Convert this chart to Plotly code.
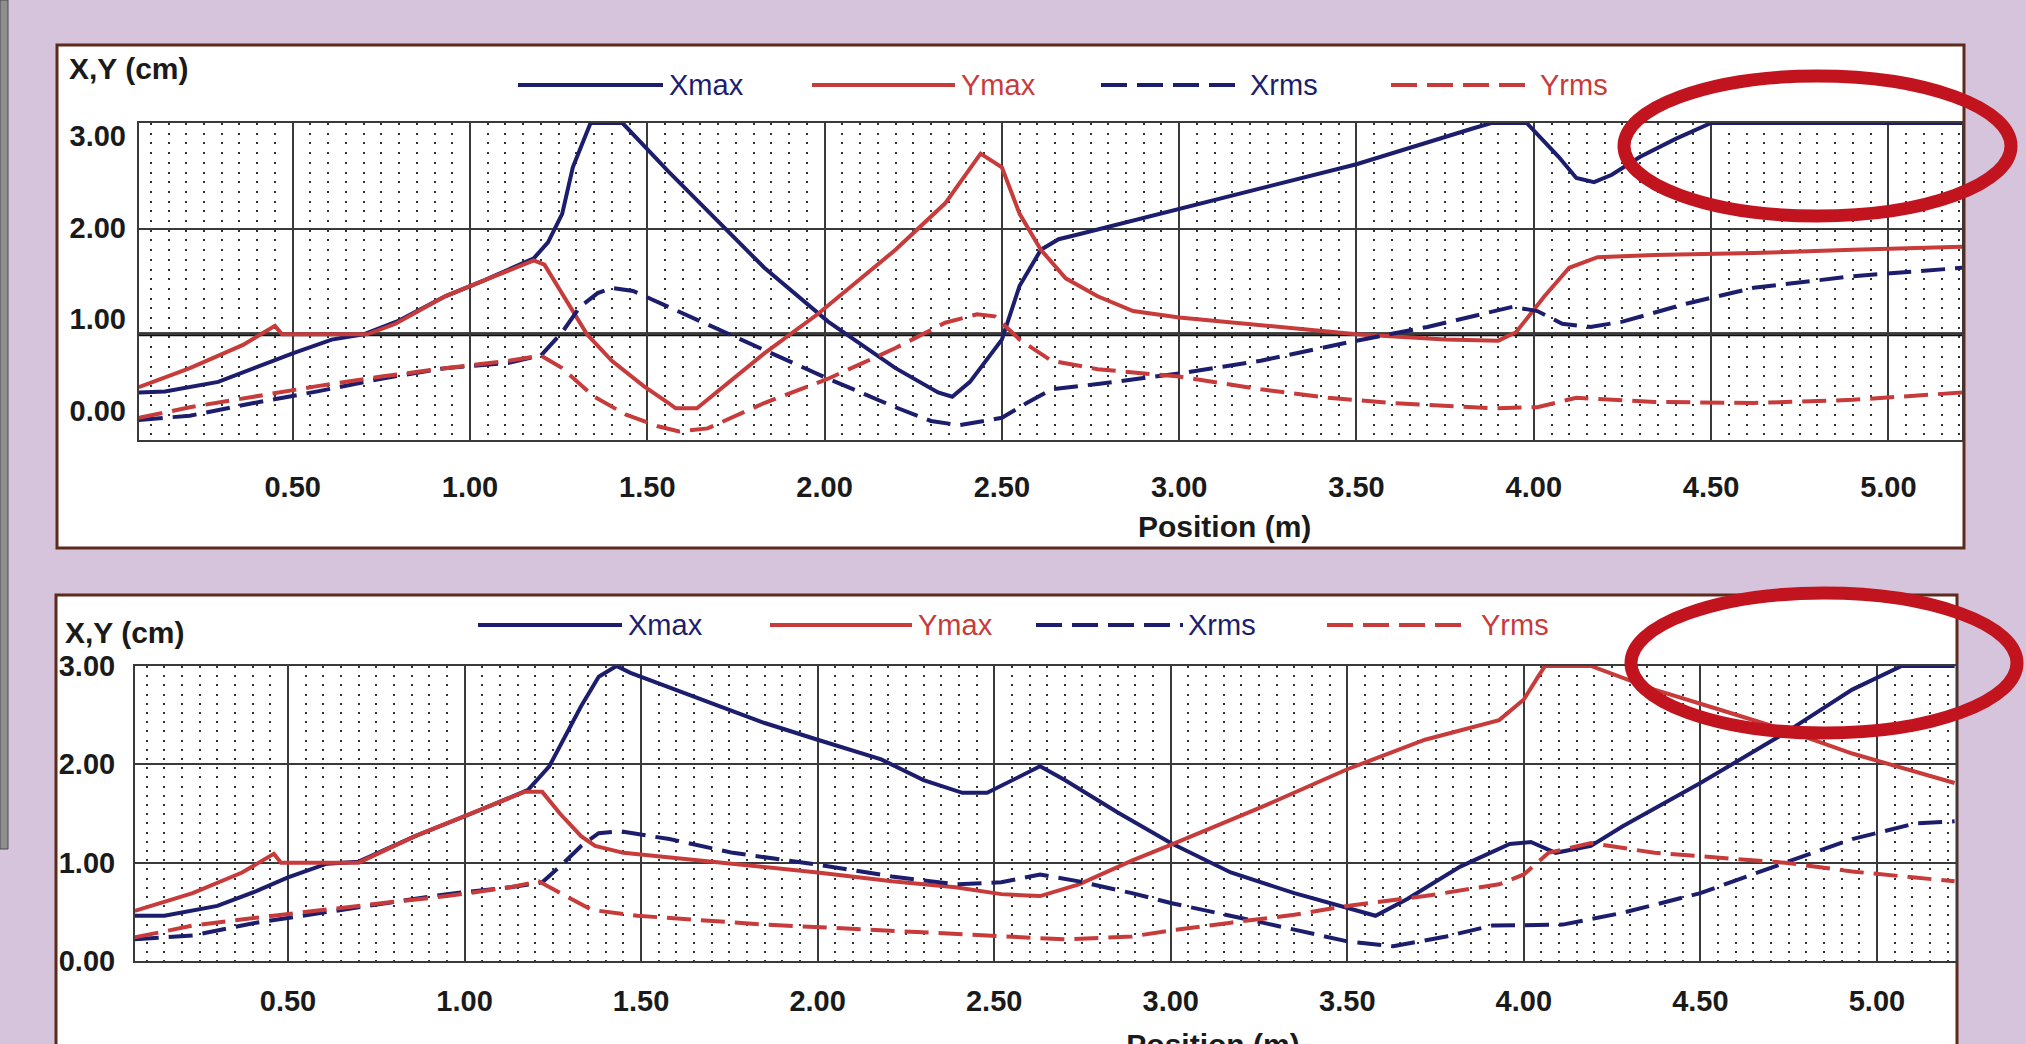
import plotly.graph_objects as go

W, H = 2026, 1044

# ---------------- data ----------------
# top panel
top_xmax_x = [0.066, 0.14, 0.29, 0.39, 0.50, 0.61, 0.70, 0.80, 0.93, 1.04, 1.18, 1.22, 1.26, 1.29, 1.34, 1.43,
              1.56, 1.83, 2.01, 2.20, 2.32, 2.36, 2.41, 2.50, 2.55, 2.61, 2.66, 2.72, 3.00, 3.50, 3.83, 3.88,
              3.98, 4.07, 4.12, 4.17, 4.22, 4.30, 4.40, 4.50, 5.21]
top_xmax_y = [0.45, 0.46, 0.55, 0.68, 0.82, 0.95, 1.00, 1.13, 1.36, 1.51, 1.72, 1.87, 2.14, 2.58, 3.00, 3.00,
              2.54, 1.63, 1.12, 0.68, 0.45, 0.41, 0.55, 0.95, 1.46, 1.80, 1.90, 1.95, 2.19, 2.61, 2.95, 3.00,
              3.00, 2.68, 2.48, 2.44, 2.51, 2.68, 2.85, 3.00, 3.00]

top_ymax_x = [0.066, 0.21, 0.36, 0.45, 0.47, 0.71, 0.79, 0.93, 1.04, 1.18, 1.21, 1.26, 1.33, 1.40, 1.49, 1.56,
              1.58, 1.64, 1.74, 1.83, 1.98, 2.20, 2.34, 2.44, 2.50, 2.55, 2.61, 2.68, 2.77, 2.87, 3.00, 3.23,
              3.50, 3.75, 3.90, 3.95, 4.03, 4.10, 4.18, 4.34, 4.62, 4.90, 5.21]
top_ymax_y = [0.50, 0.68, 0.90, 1.08, 1.00, 1.00, 1.10, 1.36, 1.51, 1.70, 1.66, 1.39, 1.00, 0.75, 0.51, 0.35,
              0.30, 0.30, 0.58, 0.82, 1.19, 1.80, 2.24, 2.71, 2.58, 2.14, 1.80, 1.53, 1.36, 1.22, 1.16, 1.09,
              1.00, 0.95, 0.94, 1.02, 1.36, 1.63, 1.73, 1.75, 1.77, 1.80, 1.83]

top_xrms_x = [0.066, 0.21, 0.39, 0.57, 0.75, 0.93, 1.11, 1.20, 1.26, 1.31, 1.36, 1.40, 1.46, 1.65, 1.83, 2.01,
              2.20, 2.30, 2.38, 2.45, 2.50, 2.57, 2.64, 2.77, 3.00, 3.23, 3.50, 3.70, 3.94, 4.01, 4.08, 4.16,
              4.25, 4.43, 4.62, 4.90, 5.21]
top_xrms_y = [0.19, 0.23, 0.35, 0.46, 0.58, 0.68, 0.73, 0.80, 1.02, 1.26, 1.39, 1.44, 1.41, 1.12, 0.85, 0.58,
              0.31, 0.18, 0.14, 0.18, 0.21, 0.35, 0.48, 0.53, 0.63, 0.75, 0.94, 1.07, 1.26, 1.22, 1.10, 1.07,
              1.12, 1.29, 1.44, 1.55, 1.63]

top_yrms_x = [0.066, 0.21, 0.39, 0.57, 0.75, 0.93, 1.11, 1.20, 1.26, 1.35, 1.44, 1.53, 1.59, 1.67, 1.83, 2.01,
              2.20, 2.34, 2.43, 2.48, 2.55, 2.64, 2.77, 3.00, 3.23, 3.42, 3.60, 3.88, 4.01, 4.12, 4.34, 4.62,
              4.90, 5.21]
top_yrms_y = [0.21, 0.31, 0.41, 0.51, 0.60, 0.68, 0.75, 0.80, 0.68, 0.41, 0.24, 0.13, 0.08, 0.11, 0.35, 0.58,
              0.87, 1.11, 1.19, 1.17, 0.95, 0.75, 0.67, 0.60, 0.48, 0.40, 0.35, 0.30, 0.31, 0.40, 0.36, 0.35,
              0.38, 0.45]

# bottom panel
bot_xmax_x = [0.066, 0.15, 0.30, 0.41, 0.50, 0.61, 0.70, 0.86, 1.02, 1.18, 1.24, 1.27, 1.33, 1.38, 1.43, 1.47,
              1.67, 1.85, 2.00, 2.18, 2.30, 2.41, 2.48, 2.52, 2.63, 2.70, 2.85, 3.00, 3.17, 3.35, 3.52, 3.58,
              3.67, 3.82, 3.96, 4.02, 4.09, 4.19, 4.28, 4.50, 4.74, 4.93, 5.07, 5.22]
bot_xmax_y = [0.46, 0.46, 0.56, 0.71, 0.85, 0.99, 1.01, 1.27, 1.50, 1.74, 1.98, 2.18, 2.59, 2.89, 3.00, 2.93,
              2.66, 2.42, 2.25, 2.05, 1.84, 1.71, 1.71, 1.78, 1.98, 1.84, 1.51, 1.20, 0.90, 0.69, 0.52, 0.46,
              0.63, 0.96, 1.19, 1.21, 1.10, 1.17, 1.37, 1.81, 2.32, 2.76, 3.00, 3.00]

bot_ymax_x = [0.066, 0.23, 0.37, 0.46, 0.48, 0.70, 0.86, 1.02, 1.17, 1.22, 1.27, 1.33, 1.37, 1.45, 1.67, 2.00,
              2.21, 2.39, 2.52, 2.63, 2.74, 2.89, 3.00, 3.26, 3.50, 3.72, 3.93, 4.00, 4.04, 4.06, 4.19, 4.37,
              4.56, 4.74, 4.93, 5.22]
bot_ymax_y = [0.51, 0.69, 0.90, 1.09, 1.00, 1.00, 1.27, 1.50, 1.72, 1.72, 1.50, 1.27, 1.17, 1.10, 1.02, 0.90,
              0.81, 0.75, 0.68, 0.66, 0.78, 1.02, 1.18, 1.57, 1.95, 2.25, 2.45, 2.66, 2.89, 3.00, 3.00, 2.76,
              2.55, 2.35, 2.11, 1.81]

bot_xrms_x = [0.066, 0.23, 0.41, 0.59, 0.77, 0.95, 1.13, 1.22, 1.27, 1.33, 1.38, 1.44, 1.58, 1.76, 2.00, 2.21,
              2.39, 2.52, 2.63, 2.74, 2.89, 3.00, 3.26, 3.50, 3.63, 3.78, 3.91, 4.11, 4.28, 4.50, 4.74, 4.93,
              5.11, 5.22]
bot_xrms_y = [0.22, 0.26, 0.39, 0.49, 0.59, 0.68, 0.75, 0.80, 0.96, 1.17, 1.30, 1.32, 1.24, 1.10, 0.98, 0.86,
              0.78, 0.80, 0.88, 0.81, 0.69, 0.59, 0.39, 0.20, 0.15, 0.25, 0.36, 0.37, 0.49, 0.69, 1.00, 1.24,
              1.40, 1.42]

bot_yrms_x = [0.066, 0.23, 0.41, 0.59, 0.77, 0.95, 1.13, 1.21, 1.27, 1.36, 1.49, 1.67, 1.85, 2.03, 2.21, 2.52,
              2.70, 2.89, 3.00, 3.17, 3.35, 3.50, 3.72, 3.93, 4.00, 4.07, 4.19, 4.37, 4.56, 4.74, 4.93, 5.22]
bot_yrms_y = [0.24, 0.36, 0.44, 0.52, 0.59, 0.66, 0.75, 0.81, 0.69, 0.52, 0.46, 0.41, 0.37, 0.34, 0.31, 0.26,
              0.22, 0.25, 0.31, 0.39, 0.47, 0.56, 0.66, 0.78, 0.88, 1.10, 1.20, 1.10, 1.05, 1.00, 0.91, 0.81]

x_tick_vals = [0.5, 1.0, 1.5, 2.0, 2.5, 3.0, 3.5, 4.0, 4.5, 5.0]
x_tick_text = ["0.50", "1.00", "1.50", "2.00", "2.50", "3.00", "3.50", "4.00", "4.50", "5.00"]
y_tick_vals = [0, 1, 2, 3]
y_tick_text = ["0.00", "1.00", "2.00", "3.00"]
series_names = ["Xmax", "Ymax", "Xrms", "Yrms"]

# ---------------- styling ----------------
NAVY = "#1d1d6e"
RED = "#c83b3b"
BG = "#d5c4dc"
BORDER = "#5e2a1c"
FONT = "Liberation Sans, Arial, sans-serif"
TXT = "#1a1a1a"
DASH = "24px,10px"


def px(x):
    return x / W


def py(y):
    return 1 - y / H


fig = go.Figure()

series_style = [(NAVY, "solid"), (RED, "solid"), (NAVY, DASH), (RED, DASH)]
top_data = [(top_xmax_x, top_xmax_y), (top_ymax_x, top_ymax_y), (top_xrms_x, top_xrms_y), (top_yrms_x, top_yrms_y)]
bot_data = [(bot_xmax_x, bot_xmax_y), (bot_ymax_x, bot_ymax_y), (bot_xrms_x, bot_xrms_y), (bot_yrms_x, bot_yrms_y)]

for (xs, ys), (col, dash), name in zip(top_data, series_style, series_names):
    fig.add_trace(go.Scatter(x=xs, y=ys, mode="lines", name=name, showlegend=False,
                             line=dict(color=col, width=4, dash=dash), xaxis="x", yaxis="y"))
for (xs, ys), (col, dash), name in zip(bot_data, series_style, series_names):
    fig.add_trace(go.Scatter(x=xs, y=ys, mode="lines", name=name, showlegend=False,
                             line=dict(color=col, width=4, dash=dash), xaxis="x2", yaxis="y2"))
# carrier trace for the top label axis
fig.add_trace(go.Scatter(x=[None], y=[None], mode="lines", showlegend=False, xaxis="x", yaxis="y3",
                         hoverinfo="skip"))

tickfont = dict(family=FONT, size=29, color=TXT, weight="bold")


def xaxis(domain, rng, dots, standoff, anchor):
    return dict(domain=domain, range=rng, anchor=anchor, tickmode="array", tickvals=x_tick_vals,
                ticktext=x_tick_text, automargin=False,
                showgrid=True, gridcolor="#3a3a3a", gridwidth=2, zeroline=False,
                showline=True, mirror=True, linecolor="#3a3a3a", linewidth=2,
                ticks="", tickfont=tickfont, ticklabelstandoff=standoff,
                minor=dict(dtick=0.05, tick0=0, showgrid=True, gridcolor="#333333", gridwidth=2,
                           griddash=dots, ticks=""),
                fixedrange=True)


def yaxis(domain, anchor, showlabels):
    return dict(domain=domain, range=[0, 3], anchor=anchor, tickmode="array", tickvals=y_tick_vals,
                ticktext=y_tick_text, showticklabels=showlabels, automargin=False,
                showgrid=True, gridcolor="#3a3a3a", gridwidth=2, zeroline=False,
                showline=True, mirror=True, linecolor="#3a3a3a", linewidth=2,
                ticks="", tickfont=tickfont, ticklabelstandoff=12, fixedrange=True)


top_dom_x = [px(139), px(1962)]
top_dom_y = [py(440), py(123)]
bot_dom_x = [px(135), px(1955.5)]
bot_dom_y = [py(961), py(666)]

# label axis for the top panel (its labels sit off the gridlines in the source picture)
lab_lo = 0 - (440 - 410.7) / 91.67
lab_hi = 3 + (135.7 - 123) / 91.67

fig.update_layout(
    width=W, height=H, margin=dict(l=0, r=0, t=0, b=0, pad=0), autosize=False,
    paper_bgcolor=BG, plot_bgcolor="white", showlegend=False,
    xaxis=xaxis(top_dom_x, [0.0666, 5.2076], "2px,7.7px", 20, "y"),
    yaxis=yaxis(top_dom_y, "x", False),
    yaxis3=dict(domain=top_dom_y, range=[lab_lo, lab_hi], overlaying="y", anchor="x", side="left",
                tickmode="array", tickvals=y_tick_vals, ticktext=y_tick_text, showgrid=False,
                zeroline=False, showline=False, ticks="", tickfont=tickfont, ticklabelstandoff=12,
                automargin=False, fixedrange=True),
    xaxis2=xaxis(bot_dom_x, [0.0667, 5.2225], "2px,7.2px", 13, "y2"),
    yaxis2=yaxis(bot_dom_y, "x2", True),
)

shapes = []
# left metallic strip
shapes.append(dict(type="rect", xref="paper", yref="paper", x0=px(0), x1=px(8), y0=py(849), y1=py(0),
                   fillcolor="#8e8e8e", line=dict(color="#4a4a4a", width=1), layer="below"))
# white panels
shapes.append(dict(type="rect", xref="paper", yref="paper", x0=px(57), x1=px(1964), y0=py(548), y1=py(45),
                   fillcolor="white", line=dict(color=BORDER, width=3), layer="below"))
shapes.append(dict(type="rect", xref="paper", yref="paper", x0=px(56), x1=px(1957), y0=py(1070), y1=py(595),
                   fillcolor="white", line=dict(color=BORDER, width=3), layer="below"))
# thick reference line in the top panel
shapes.append(dict(type="line", xref="x domain", yref="y", x0=0, x1=1, y0=1, y1=1,
                   line=dict(color="#111111", width=4), layer="below"))

annotations = []


def legend(y, items):
    for (x0, x1, tx), (col, dash), name in zip(items, series_style, series_names):
        shapes.append(dict(type="line", xref="paper", yref="paper", x0=px(x0), x1=px(x1), y0=py(y), y1=py(y),
                           line=dict(color=col, width=4, dash="solid" if dash == "solid" else "26px,10px")))
        annotations.append(dict(xref="paper", yref="paper", x=px(tx), y=py(y), text=name, showarrow=False,
                                xanchor="left", yanchor="middle",
                                font=dict(family=FONT, size=29, color=col)))


legend(85, [(518, 663, 667), (812, 955, 959), (1101, 1245, 1248), (1391, 1534, 1538)])
legend(625, [(478, 622, 626), (770, 912, 916), (1036, 1183, 1186), (1327, 1471, 1479)])

for (cx, cy) in [(129, 68), (125, 632)]:
    annotations.append(dict(xref="paper", yref="paper", x=px(cx), y=py(cy), text="X,Y (cm)",
                            showarrow=False, xanchor="center", yanchor="middle",
                            font=dict(family=FONT, size=30, color=TXT, weight="bold")))
annotations.append(dict(xref="paper", yref="paper", x=px(1224), y=py(526), text="Position (m)",
                        showarrow=False, xanchor="center", yanchor="middle",
                        font=dict(family=FONT, size=30, color=TXT, weight="bold")))
# bottom-panel axis title, cut by the lower edge of the picture (shape label: does not push margins)
shapes.append(dict(type="line", xref="paper", yref="paper", x0=px(1113), x1=px(1313), y0=py(1041), y1=py(1041),
                   line=dict(color="rgba(0,0,0,0)", width=1),
                   label=dict(text="<b>Position (m)</b>", textposition="middle", yanchor="middle",
                              font=dict(family=FONT, size=30, color=TXT))))

# red highlight ellipses
shapes.append(dict(type="circle", xref="paper", yref="paper", x0=px(1624), x1=px(2011), y0=py(216), y1=py(76),
                   line=dict(color="#c2141e", width=13), layer="above"))
shapes.append(dict(type="circle", xref="paper", yref="paper", x0=px(1631), x1=px(2017), y0=py(733), y1=py(593),
                   line=dict(color="#c2141e", width=13), layer="above"))

fig.update_layout(shapes=shapes, annotations=annotations)

fig.write_html("out.html", config={"displayModeBar": False},
               post_script="document.body.style.margin='0px';document.body.style.overflow='hidden';")
